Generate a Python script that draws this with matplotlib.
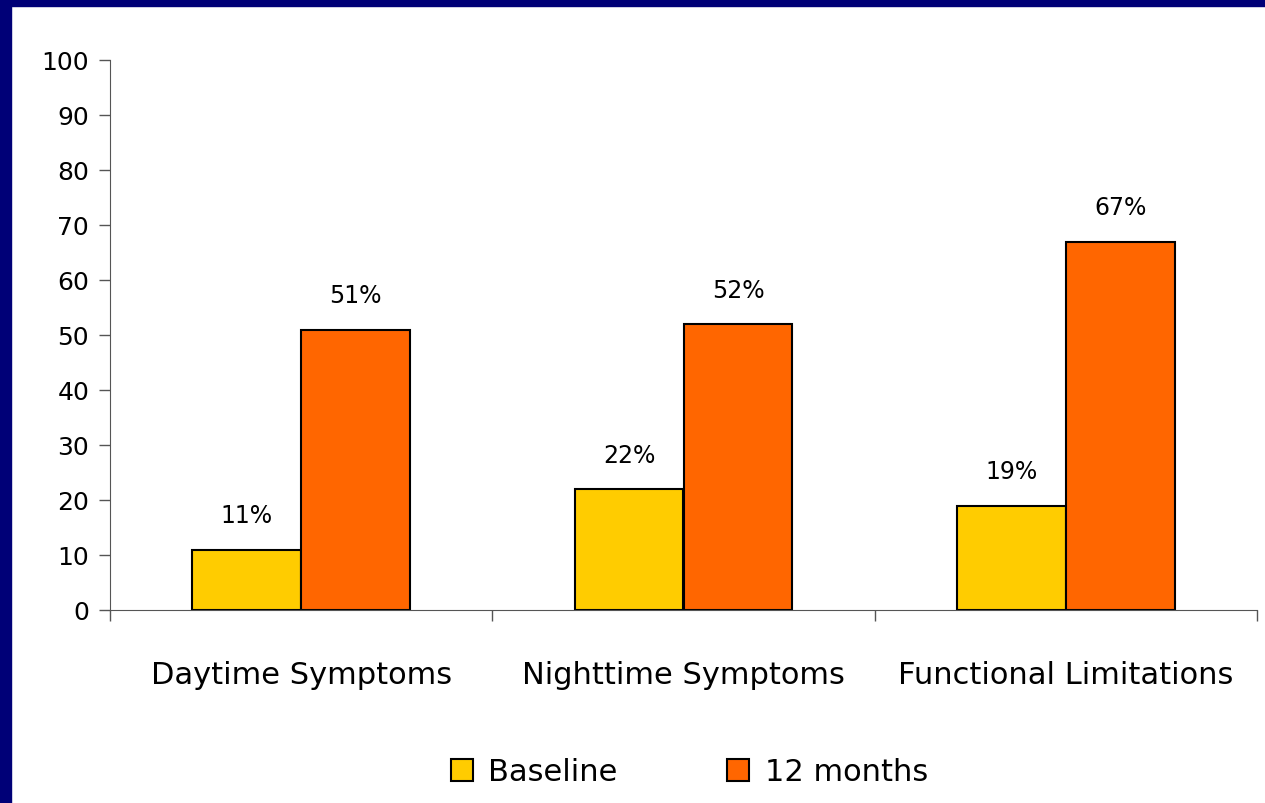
import matplotlib.pyplot as plt
import matplotlib.patches as mpatches
import numpy as np

categories = ['Daytime Symptoms', 'Nighttime Symptoms', 'Functional Limitations']
baseline = [11, 22, 19]
months12 = [51, 52, 67]
series_names = ['Baseline', '12 months']
colors = ['#FFCC00', '#FF6600']

plt.rcParams['font.family'] = ['DejaVu Sans']

fig = plt.figure(figsize=(12.65, 8.04), dpi=100)
fig.patch.set_facecolor('white')
# navy frame strips at top and left
fig.add_artist(mpatches.Rectangle((0, 1 - 7 / 804), 1, 7 / 804, transform=fig.transFigure,
                                  color='#000077', zorder=0))
fig.add_artist(mpatches.Rectangle((0, 0), 11 / 1265, 1, transform=fig.transFigure,
                                  color='#000077', zorder=0))

ax = fig.add_axes([110 / 1265, 1 - 611 / 804, 1147 / 1265, 550 / 804])
x = np.arange(len(categories))
w = 0.285
b1 = ax.bar(x - w / 2, baseline, w, color=colors[0], edgecolor='black', linewidth=1.5, label=series_names[0])
b2 = ax.bar(x + w / 2, months12, w, color=colors[1], edgecolor='black', linewidth=1.5, label=series_names[1])

for bars, vals in [(b1, baseline), (b2, months12)]:
    for bar, v in zip(bars, vals):
        ax.annotate(f'{v}%', (bar.get_x() + bar.get_width() / 2, v), xytext=(0, 16),
                    textcoords='offset points', ha='center', va='bottom', fontsize=17)

ax.set_xlim(-0.5, 2.5)
ax.set_ylim(0, 100)
ax.set_yticks(range(0, 101, 10))
ax.tick_params(axis='y', labelsize=18, length=8, width=1, color='#555555', pad=7)
ax.set_xticks(x)
ax.set_xticklabels(categories, fontsize=22)
ax.tick_params(axis='x', which='major', length=0, pad=36)
ax.set_xticks([-0.5, 0.5, 1.5, 2.5], minor=True)
ax.tick_params(axis='x', which='minor', length=8, width=1, color='#555555')
for s in ['top', 'right']:
    ax.spines[s].set_visible(False)
for s in ['left', 'bottom']:
    ax.spines[s].set_color('#555555')

handles = [mpatches.Patch(facecolor=c, edgecolor='black', linewidth=1.5) for c in colors]
fig.legend(handles, series_names, loc='center', bbox_to_anchor=(0.545, 1 - 773 / 804), ncol=2,
           frameon=False, fontsize=22, handlelength=0.72, handleheight=0.72, handletextpad=0.5,
           columnspacing=3.6)

fig.savefig('out.png', dpi=100)
